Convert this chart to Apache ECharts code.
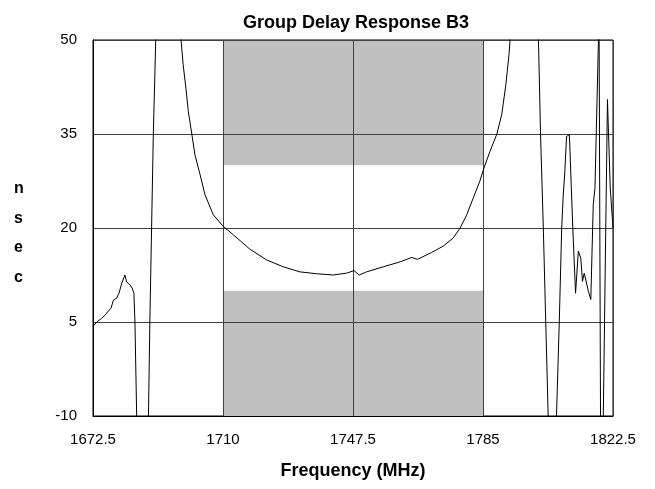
<!DOCTYPE html>
<html>
<head>
<meta charset="utf-8">
<title>Group Delay Response B3</title>
<script src="https://cdn.jsdelivr.net/npm/echarts@6/dist/echarts.min.js"></script>
<style>
  html, body { margin: 0; padding: 0; background: #fff; }
  #chart { width: 655px; height: 489px; }
</style>
</head>
<body>
<div id="chart"></div>
<script>
// measured group delay trace (MHz, nsec) - points beyond the plot get clipped
const freqMHz = [
  1672.5, 1673.6, 1675.0, 1676.0, 1676.7, 1677.7, 1678.4, 1679.3, 1680.0, 1680.8,
  1681.7, 1682.2, 1683.2, 1683.8, 1684.3, 1684.6, 1685.1, 1685.6, 1688.0, 1688.5,
  1688.9, 1689.4, 1689.9, 1690.6, 1691.2, 1696.2, 1697.9, 1698.5, 1699.3, 1700.0,
  1701.0, 1701.9, 1703.4, 1704.8, 1707.2, 1710.0, 1713.0, 1717.8, 1722.6, 1727.4,
  1732.2, 1737.0, 1741.8, 1745.7, 1747.8, 1749.3, 1751.4, 1756.2, 1761.1, 1764.4,
  1766.1, 1770.2, 1773.5, 1776.4, 1778.4, 1780.3, 1782.2, 1784.1, 1785.3, 1787.0,
  1789.0, 1790.4, 1791.6, 1792.5, 1792.8, 1793.1, 1800.6, 1801.0, 1801.6, 1802.4,
  1803.1, 1803.8, 1804.2, 1805.8, 1806.2, 1807.0, 1807.7, 1808.1, 1808.6, 1809.1,
  1809.9, 1810.1, 1810.9, 1811.7, 1812.5, 1813.2, 1813.7, 1814.2, 1814.7, 1815.4,
  1816.1, 1816.8, 1817.3, 1818.3, 1818.4, 1818.5, 1818.9, 1819.0, 1819.6, 1819.7,
  1820.9, 1821.7, 1822.5
];
const delayNs = [
  4.3, 5.0, 5.6, 6.1, 6.6, 7.2, 8.5, 8.8, 9.6, 11.2,
  12.5, 11.4, 10.9, 10.4, 9.6, 5.0, -10, -25, -25, -10,
  5, 20, 35, 50, 62, 62, 50, 46.1, 42.3, 38.6,
  35.0, 31.7, 28.5, 25.3, 22.1, 20.3, 18.9, 16.6, 14.9, 13.8,
  13.0, 12.7, 12.5, 12.8, 13.2, 12.5, 13.0, 13.8, 14.6, 15.3,
  15.0, 16.1, 17.1, 18.4, 20.0, 22.1, 24.8, 27.5, 29.6, 32.2,
  35.0, 38.1, 42.9, 47.7, 50, 60, 60, 50, 35, 20,
  5, -10, -20, -20, -10, 5, 20, 24.8, 29, 34.6,
  34.9, 32.2, 20, 9.6, 16.3, 15.2, 11.5, 12.8, 12.6, 9.9,
  8.6, 23.7, 26.4, 50, 55, 50, -10, -20, -20, -10,
  40.5, 26.4, 20
];

// passband spec masks
const maskFreq = [1710, 1785];
const upperMask = [30, 50];
const lowerMask = [-10, 10];

const xTicks = { min: 1672.5, max: 1822.5, step: 37.5 };
const yTicks = { min: -10, max: 50, step: 15 };

const sans = '"Liberation Sans", Arial, sans-serif';

const chart = echarts.init(document.getElementById('chart'));

chart.setOption({
  animation: false,
  backgroundColor: '#fff',
  title: {
    text: 'Group Delay Response B3',
    left: 351,
    textAlign: 'center',
    top: 9,
    textStyle: { fontFamily: sans, fontSize: 18, fontWeight: 'bold', color: '#000' }
  },
  graphic: [{
    type: 'text',
    left: 14,
    top: 174,
    style: {
      text: 'n\ns\ne\nc',
      fontFamily: sans,
      fontSize: 16,
      fontWeight: 'bold',
      lineHeight: 29.6,
      fill: '#000',
      align: 'center'
    }
  }],
  grid: {
    left: 93, right: 42, top: 40, bottom: 73,
    show: true, borderColor: '#000', borderWidth: 1, backgroundColor: 'transparent'
  },
  xAxis: {
    type: 'value',
    z: 2,
    min: xTicks.min, max: xTicks.max, interval: xTicks.step,
    name: 'Frequency (MHz)',
    nameLocation: 'middle',
    nameGap: 46,
    nameTextStyle: { fontFamily: sans, fontSize: 18, fontWeight: 'bold', color: '#000' },
    axisLine: { show: true, onZero: false, lineStyle: { color: '#000', width: 1 } },
    axisTick: { show: false },
    axisLabel: {
      fontFamily: sans, fontSize: 15, color: '#000', margin: 16,
      formatter: v => String(v)
    },
    splitLine: { show: true, lineStyle: { color: '#404040', width: 1 } }
  },
  yAxis: {
    type: 'value',
    z: 2,
    min: yTicks.min, max: yTicks.max, interval: yTicks.step,
    axisLine: { show: true, onZero: false, lineStyle: { color: '#000', width: 1 } },
    axisTick: { show: false },
    axisLabel: { fontFamily: sans, fontSize: 15, color: '#000', margin: 16 },
    splitLine: { show: true, lineStyle: { color: '#404040', width: 1 } }
  },
  series: [
    {
      type: 'line',
      z: 1,
      data: [],
      markArea: {
        silent: true,
        z: 1,
        itemStyle: { color: '#c0c0c0' },
        data: [
          [{ coord: [maskFreq[0], upperMask[0]] }, { coord: [maskFreq[1], upperMask[1]] }],
          [{ coord: [maskFreq[0], lowerMask[0]] }, { coord: [maskFreq[1], lowerMask[1]] }]
        ]
      }
    },
    {
      type: 'line',
      z: 3,
      clip: true,
      showSymbol: false,
      symbol: 'none',
      lineStyle: { color: '#000', width: 1 },
      data: freqMHz.map((f, i) => [f, delayNs[i]])
    }
  ]
});
</script>
</body>
</html>
